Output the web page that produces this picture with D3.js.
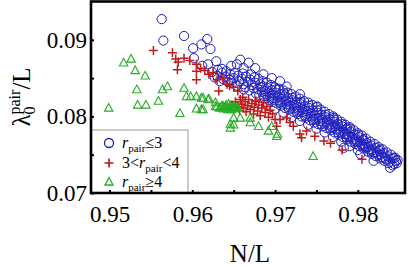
<!DOCTYPE html>
<html><head><meta charset="utf-8">
<script src="https://cdn.jsdelivr.net/npm/d3@7"></script>
<style>body{margin:0;background:#fff}svg{display:block}text{font-family:"Liberation Serif","Times New Roman",serif}</style>
</head><body>
<script>
const xTicks = [0.95,0.955,0.96,0.965,0.97,0.975,0.98];
const xTickLabels = ["0.95","","0.96","","0.97","","0.98"];
const yTicks = [0.07,0.075,0.08,0.085,0.09];
const yTickLabels = ["0.07","","0.08","","0.09"];

const blueCircles = [
[0.9563,0.0927],[0.9565,0.0899],[0.9590,0.0905],[0.9601,0.0889],[0.9611,0.0894],[0.9618,0.0901],[0.9622,0.0888],[0.9602,0.0876],[0.9619,0.0868],[0.9629,0.0872],[0.9612,0.0866],[0.9636,0.0862],
[0.9654,0.0868],[0.9658,0.0874],[0.9668,0.0870],[0.9676,0.0863],[0.9686,0.0855],[0.9696,0.0850],[0.9706,0.0846],[0.9714,0.0839],[0.9662,0.0863],[0.9647,0.0866],
[0.9730,0.0829],[0.9751,0.0813],[0.9771,0.0798],[0.9787,0.0785],[0.9807,0.0770],[0.9827,0.0757],[0.9843,0.0746],
[0.9624,0.0858],[0.9627,0.0851],
[0.9631,0.0861],[0.9630,0.0853],[0.9633,0.0846],
[0.9636,0.0857],[0.9637,0.0849],
[0.9641,0.0859],[0.9640,0.0852],[0.9643,0.0845],
[0.9646,0.0855],[0.9645,0.0848],
[0.9651,0.0857],[0.9650,0.0850],[0.9648,0.0843],
[0.9655,0.0853],[0.9657,0.0846],[0.9654,0.0840],
[0.9661,0.0856],[0.9660,0.0849],[0.9662,0.0842],
[0.9665,0.0852],[0.9667,0.0845],[0.9664,0.0838],
[0.9671,0.0855],[0.9670,0.0848],[0.9672,0.0841],[0.9669,0.0834],
[0.9675,0.0851],[0.9676,0.0844],[0.9674,0.0837],[0.9677,0.0830],
[0.9680,0.0849],[0.9682,0.0842],[0.9679,0.0836],[0.9681,0.0828],
[0.9685,0.0846],[0.9686,0.0839],[0.9684,0.0832],[0.9687,0.0824],
[0.9690,0.0844],[0.9691,0.0837],[0.9689,0.0829],[0.9692,0.0821],[0.9690,0.0815],
[0.9695,0.0841],[0.9696,0.0834],[0.9694,0.0827],[0.9697,0.0819],
[0.9700,0.0838],[0.9701,0.0831],[0.9699,0.0824],[0.9702,0.0817],[0.9700,0.0810],
[0.9705,0.0836],[0.9706,0.0829],[0.9704,0.0821],[0.9707,0.0814],
[0.9710,0.0834],[0.9711,0.0826],[0.9709,0.0819],[0.9712,0.0811],[0.9710,0.0805],
[0.9715,0.0831],[0.9716,0.0824],[0.9714,0.0816],[0.9717,0.0809],
[0.9720,0.0829],[0.9721,0.0821],[0.9719,0.0814],[0.9722,0.0806],[0.9720,0.0799],
[0.9725,0.0826],[0.9726,0.0818],[0.9724,0.0811],[0.9727,0.0803],
[0.9730,0.0823],[0.9731,0.0816],[0.9729,0.0808],[0.9732,0.0800],[0.9730,0.0794],
[0.9735,0.0820],[0.9736,0.0813],[0.9734,0.0806],[0.9737,0.0798],
[0.9740,0.0818],[0.9741,0.0811],[0.9739,0.0803],[0.9742,0.0795],[0.9740,0.0789],
[0.9745,0.0815],[0.9746,0.0808],[0.9744,0.0800],[0.9747,0.0792],
[0.9750,0.0812],[0.9751,0.0805],[0.9749,0.0797],[0.9752,0.0790],[0.9750,0.0784],
[0.9755,0.0809],[0.9756,0.0802],[0.9754,0.0794],[0.9757,0.0787],
[0.9760,0.0806],[0.9761,0.0799],[0.9759,0.0792],[0.9762,0.0785],[0.9760,0.0779],
[0.9765,0.0803],[0.9766,0.0796],[0.9764,0.0789],[0.9767,0.0782],
[0.9770,0.0800],[0.9771,0.0793],[0.9769,0.0786],[0.9772,0.0779],[0.9770,0.0773],
[0.9775,0.0796],[0.9776,0.0790],[0.9774,0.0783],[0.9777,0.0776],
[0.9780,0.0793],[0.9781,0.0787],[0.9779,0.0780],[0.9782,0.0773],[0.9780,0.0767],
[0.9785,0.0789],[0.9786,0.0783],[0.9784,0.0777],[0.9787,0.0770],
[0.9790,0.0786],[0.9791,0.0780],[0.9789,0.0774],[0.9792,0.0767],[0.9790,0.0761],
[0.9795,0.0782],[0.9796,0.0776],[0.9794,0.0770],[0.9797,0.0764],
[0.9800,0.0778],[0.9801,0.0773],[0.9799,0.0767],[0.9802,0.0761],[0.9800,0.0756],
[0.9805,0.0775],[0.9806,0.0769],[0.9804,0.0764],[0.9807,0.0758],
[0.9810,0.0771],[0.9811,0.0765],[0.9809,0.0760],[0.9812,0.0754],
[0.9815,0.0767],[0.9816,0.0762],[0.9814,0.0757],[0.9817,0.0751],
[0.9820,0.0764],[0.9821,0.0759],[0.9819,0.0753],[0.9822,0.0748],
[0.9825,0.0760],[0.9826,0.0755],[0.9824,0.0750],[0.9827,0.0745],
[0.9830,0.0757],[0.9831,0.0752],[0.9829,0.0747],[0.9832,0.0742],
[0.9835,0.0753],[0.9836,0.0748],[0.9834,0.0744],[0.9837,0.0739],
[0.9840,0.0750],[0.9841,0.0745],[0.9839,0.0741],[0.9842,0.0736],
[0.9845,0.0746],[0.9846,0.0742],[0.9844,0.0738],
[0.9848,0.0743],[0.9847,0.0739],
[0.9662,0.0835],[0.9783,0.0759],[0.9803,0.0751],[0.9819,0.0742],[0.9839,0.0733],
[0.9683,0.0838],[0.9688,0.0833],[0.9693,0.0831],[0.9698,0.0828],[0.9703,0.0826],[0.9708,0.0823],[0.9713,0.0821],
[0.9718,0.0818],[0.9723,0.0815],[0.9728,0.0812],[0.9733,0.0810],[0.9738,0.0807],[0.9743,0.0804],[0.9748,0.0801],
[0.9753,0.0798],[0.9758,0.0796],[0.9763,0.0793],[0.9768,0.0790],[0.9773,0.0787],[0.9778,0.0784],[0.9783,0.0780],
[0.9788,0.0777],[0.9793,0.0773],[0.9798,0.0770],[0.9803,0.0767],[0.9808,0.0763],[0.9813,0.0760],[0.9818,0.0756],
[0.9686,0.0827],[0.9696,0.0823],[0.9706,0.0818],[0.9716,0.0812],[0.9726,0.0806],[0.9736,0.0801],[0.9746,0.0796],
[0.9756,0.0790],[0.9766,0.0785],[0.9776,0.0779],[0.9786,0.0773],[0.9796,0.0767],[0.9806,0.0761],[0.9816,0.0754],
[0.9701,0.0835],[0.9711,0.0830],[0.9721,0.0824],[0.9731,0.0819],[0.9741,0.0814],[0.9751,0.0808],[0.9761,0.0802],
[0.9771,0.0796],[0.9781,0.0790],[0.9791,0.0784],[0.9801,0.0776],[0.9823,0.0753],[0.9828,0.0750],[0.9833,0.0746]
];

const redPlus = [
[0.9553,0.0886],[0.9576,0.0883],[0.9580,0.0875],[0.9583,0.0871],[0.9582,0.0861],[0.9590,0.0876],[0.9597,0.0873],
[0.9605,0.0868],[0.9605,0.0859],[0.9605,0.0848],[0.9610,0.0863],[0.9615,0.0860],[0.9620,0.0855],[0.9625,0.0857],
[0.9630,0.0848],[0.9632,0.0833],[0.9637,0.0850],[0.9642,0.0842],[0.9645,0.0840],[0.9650,0.0838],[0.9655,0.0833],
[0.9661,0.0825],[0.9676,0.0820],
[0.9648,0.0815],[0.9650,0.0810],[0.9652,0.0819],[0.9655,0.0813],[0.9657,0.0808],[0.9658,0.0822],[0.9660,0.0816],
[0.9662,0.0811],[0.9664,0.0819],[0.9665,0.0806],[0.9667,0.0814],[0.9668,0.0822],[0.9670,0.0809],[0.9672,0.0817],
[0.9674,0.0803],[0.9675,0.0812],[0.9677,0.0820],[0.9679,0.0807],[0.9680,0.0815],[0.9682,0.0801],[0.9684,0.0811],
[0.9686,0.0818],[0.9688,0.0805],[0.9690,0.0813],[0.9692,0.0799],[0.9694,0.0808],[0.9697,0.0803],[0.9700,0.0796],
[0.9702,0.0787],[0.9706,0.0796],[0.9714,0.0798],[0.9718,0.0792],[0.9722,0.0787],[0.9730,0.0777],[0.9732,0.0772],
[0.9738,0.0781],[0.9748,0.0774],[0.9759,0.0768],[0.9767,0.0765],[0.9781,0.0756],[0.9805,0.0744]
];

const greenTriangles = [
[0.9499,0.0811],[0.9517,0.0870],[0.9526,0.0875],[0.9531,0.0860],[0.9543,0.0853],[0.9533,0.0835],[0.9534,0.0815],
[0.9544,0.0815],[0.9559,0.0820],[0.9564,0.0835],[0.9570,0.0839],[0.9585,0.0804],[0.9590,0.0837],[0.9593,0.0826],
[0.9598,0.0826],[0.9605,0.0826],[0.9613,0.0824],[0.9620,0.0823],[0.9605,0.0810],[0.9613,0.0809],[0.9628,0.0813],
[0.9611,0.0824],[0.9619,0.0822],[0.9628,0.0818],[0.9611,0.0809],[0.9646,0.0790],
[0.9650,0.0798],[0.9658,0.0798],[0.9670,0.0798],[0.9670,0.0792],[0.9646,0.0785],[0.9650,0.0789],[0.9680,0.0787],
[0.9692,0.0781],[0.9696,0.0787],[0.9702,0.0774],[0.9703,0.0777],[0.9746,0.0748],
[0.9630,0.0813],[0.9633,0.0811],[0.9636,0.0814],[0.9638,0.0810],[0.9640,0.0812],[0.9641,0.0815],[0.9643,0.0809],
[0.9645,0.0812],[0.9646,0.0814],[0.9648,0.0811],[0.9650,0.0813],[0.9651,0.0810],[0.9653,0.0812],[0.9655,0.0811],
[0.9638,0.0813],[0.9642,0.0811],[0.9647,0.0809],[0.9652,0.0814],[0.9635,0.0812],[0.9644,0.0816]
];

const W = 409, H = 267;
const svg = d3.select("body").append("svg").attr("width", W).attr("height", H);
const x = d3.scaleLinear().domain([0.94776, 0.9857]).range([91, 405]);
const y = d3.scaleLinear().domain([0.07, 0.095]).range([193, 1.5]);

const blue = "#2020c0", red = "#c01a1a", green = "#26ad26";

const plot = svg.append("g");
plot.append("g").selectAll("circle").data(blueCircles).join("circle")
  .attr("cx", d => x(d[0])).attr("cy", d => y(d[1])).attr("r", 4.6)
  .attr("fill", "none").attr("stroke", blue).attr("stroke-width", 1);
plot.append("g").selectAll("path").data(redPlus).join("path")
  .attr("d", d => { const cx = x(d[0]), cy = y(d[1]), s = 4.5;
    return `M${cx-s},${cy}H${cx+s}M${cx},${cy-s}V${cy+s}`; })
  .attr("stroke", red).attr("stroke-width", 1.5).attr("fill", "none");
plot.append("g").selectAll("path").data(greenTriangles).join("path")
  .attr("d", d => { const cx = x(d[0]), cy = y(d[1]);
    return `M${cx},${cy-4.5}L${cx+4.2},${cy+3.2}L${cx-4.2},${cy+3.2}Z`; })
  .attr("stroke", green).attr("stroke-width", 1.1).attr("fill", "none");

// legend
const lg = svg.append("g");
lg.append("rect").attr("x", 91).attr("y", 130).attr("width", 97).attr("height", 63)
  .attr("fill", "#fff").attr("stroke", "#999").attr("stroke-width", 1);
const ly = [143, 163, 182];
lg.append("circle").attr("cx", 109).attr("cy", ly[0]).attr("r", 4.5).attr("fill","none").attr("stroke", blue).attr("stroke-width",1.3);
lg.append("path").attr("d", `M${104.5},${ly[1]}H${113.5}M109,${ly[1]-4.5}V${ly[1]+4.5}`).attr("stroke", red).attr("stroke-width",1.7);
lg.append("path").attr("d", `M109,${ly[2]-4.5}L113,${ly[2]+3}L105,${ly[2]+3}Z`).attr("fill","none").attr("stroke", green).attr("stroke-width",1.3);
function legendText(yy, pre, post) {
  const t = lg.append("text").attr("x", 122).attr("y", yy + 5).attr("font-size", 16);
  if (pre) t.append("tspan").text(pre);
  t.append("tspan").attr("font-style", "italic").text("r");
  t.append("tspan").attr("font-size", 11).attr("dy", 4).text("pair");
  t.append("tspan").attr("dy", -4).text(post);
}
legendText(ly[0], "", "≤3");
legendText(ly[1], "3<", "<4");
legendText(ly[2], "", "≥4");

// axes
const xAxis = d3.axisBottom(x).tickValues(xTicks).tickFormat((d,i) => xTickLabels[i]).tickSizeInner(-3).tickSizeOuter(0).tickPadding(13);
const yAxis = d3.axisLeft(y).tickValues(yTicks).tickFormat((d,i) => yTickLabels[i]).tickSizeInner(-3).tickSizeOuter(0).tickPadding(4);
const gx = svg.append("g").attr("transform", "translate(0,193)").call(xAxis);
const gy = svg.append("g").attr("transform", "translate(91,0)").call(yAxis);
[gx, gy].forEach(g => {
  g.select(".domain").remove();
  g.selectAll(".tick line").attr("stroke", "#000").attr("stroke-width", 2);
  g.selectAll(".tick text").attr("font-size", 23).attr("fill", "#000").attr("font-family", "Liberation Serif, serif");
});

// frame
svg.append("rect").attr("x", 91).attr("y", 1.5).attr("width", 314).attr("height", 191.5)
  .attr("fill", "none").attr("stroke", "#000").attr("stroke-width", 2.6);

// axis titles
svg.append("text").attr("x", 250).attr("y", 262).attr("text-anchor", "middle").attr("font-size", 25).text("N/L");
const yl = svg.append("text").attr("transform", "translate(30,97) rotate(-90)").attr("text-anchor", "middle").attr("font-size", 25);
yl.append("tspan").text("λ");
yl.append("tspan").attr("font-size", 16).attr("dy", 5).text("0");
yl.append("tspan").attr("font-size", 16).attr("dx", -8).attr("dy", -15).text("pair");
yl.append("tspan").attr("dy", 10).text("/L");
</script>
</body></html>
